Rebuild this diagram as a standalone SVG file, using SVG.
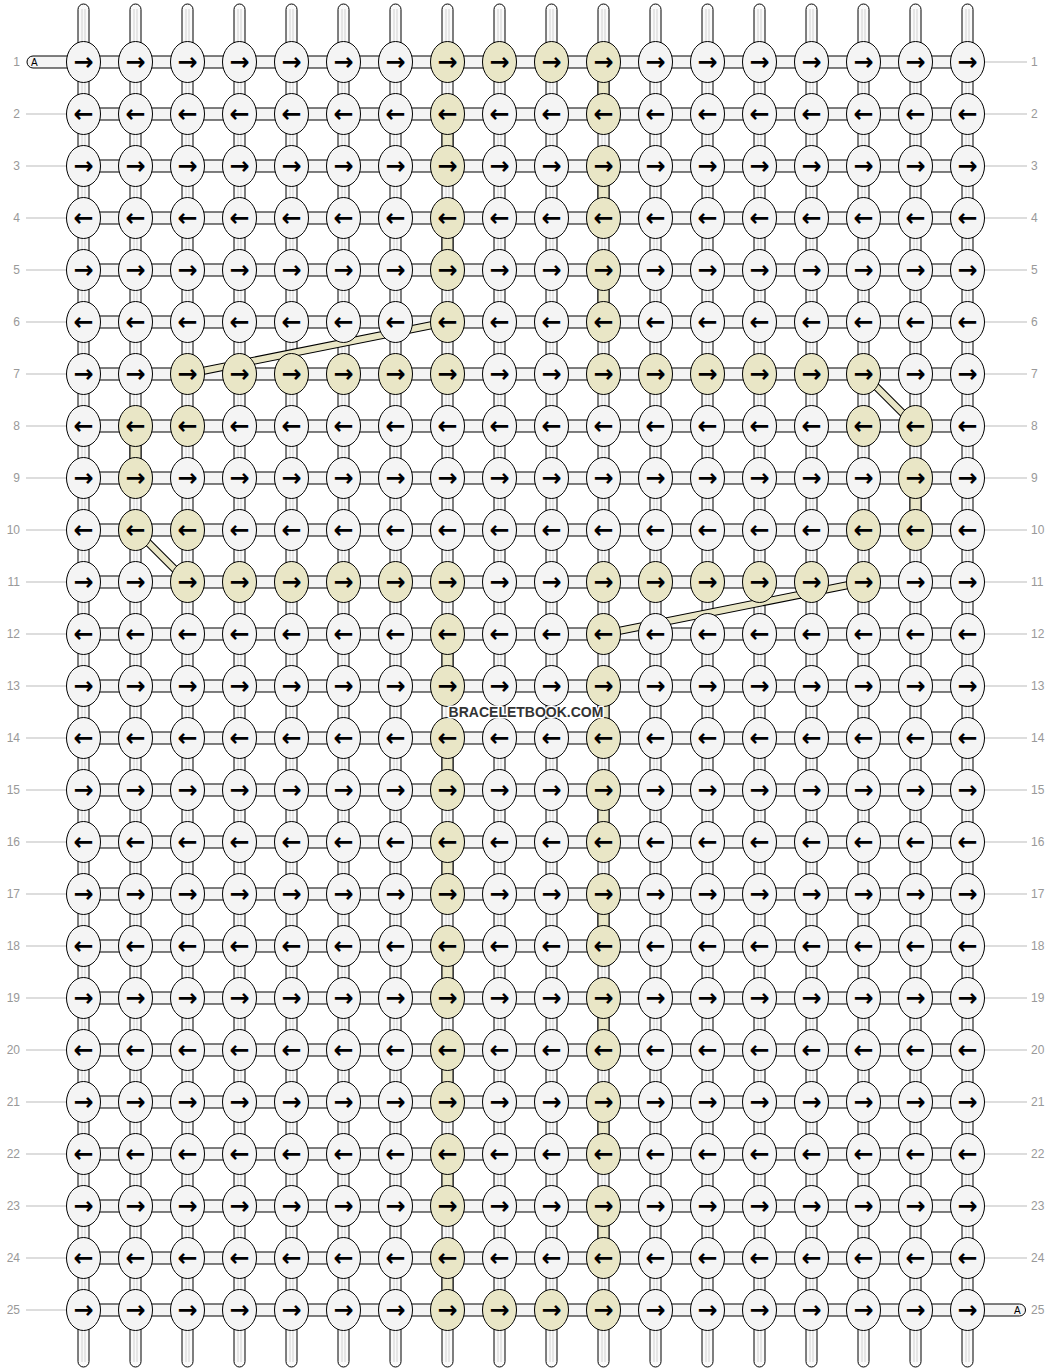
<svg xmlns="http://www.w3.org/2000/svg" width="1052" height="1372" viewBox="0 0 1052 1372">
<style>
.vt{fill:#fafafa;stroke:#000;stroke-width:1}
.vl{stroke:#d2d2d2;stroke-width:1}
.ht{fill:#f4f4f4;stroke:#000;stroke-width:1}
.yv{fill:#e9e6c6;stroke:#000;stroke-width:1}
.bo{stroke:#000;stroke-width:8;stroke-linecap:butt}
.bi{stroke:#e9e6c6;stroke-width:6;stroke-linecap:butt}
.w{fill:#f4f4f4;stroke:#000;stroke-width:1}
.y{fill:#e9e6c6;stroke:#000;stroke-width:1}
.a{font-family:"DejaVu Sans",sans-serif;font-weight:bold;font-size:24px;text-anchor:middle;fill:#000}
.ll{stroke:#bbb;stroke-width:1}
.lb{font-family:"Liberation Sans",Arial,sans-serif;font-size:12px;fill:#999}
.le{text-anchor:end}
.tA{font-family:"Liberation Sans",Arial,sans-serif;font-size:10px;fill:#000}
.wm{font-family:"Liberation Sans",Arial,sans-serif;font-weight:bold;font-size:14px;text-anchor:middle;fill:#333;stroke:#fff;stroke-width:3;paint-order:stroke;stroke-linejoin:round}
</style>
<g id="connectors">
<g id="strings">
<rect class="vt" x="78" y="4" width="11" height="1363" rx="5.5"/>
<rect class="vt" x="130" y="4" width="11" height="1363" rx="5.5"/>
<rect class="vt" x="182" y="4" width="11" height="1363" rx="5.5"/>
<rect class="vt" x="234" y="4" width="11" height="1363" rx="5.5"/>
<rect class="vt" x="286" y="4" width="11" height="1363" rx="5.5"/>
<rect class="vt" x="338" y="4" width="11" height="1363" rx="5.5"/>
<rect class="vt" x="390" y="4" width="11" height="1363" rx="5.5"/>
<rect class="vt" x="442" y="4" width="11" height="1363" rx="5.5"/>
<rect class="vt" x="494" y="4" width="11" height="1363" rx="5.5"/>
<rect class="vt" x="546" y="4" width="11" height="1363" rx="5.5"/>
<rect class="vt" x="598" y="4" width="11" height="1363" rx="5.5"/>
<rect class="vt" x="650" y="4" width="11" height="1363" rx="5.5"/>
<rect class="vt" x="702" y="4" width="11" height="1363" rx="5.5"/>
<rect class="vt" x="754" y="4" width="11" height="1363" rx="5.5"/>
<rect class="vt" x="806" y="4" width="11" height="1363" rx="5.5"/>
<rect class="vt" x="858" y="4" width="11" height="1363" rx="5.5"/>
<rect class="vt" x="910" y="4" width="11" height="1363" rx="5.5"/>
<rect class="vt" x="962" y="4" width="11" height="1363" rx="5.5"/>
<path class="vl" d="M82,9V1362M85,9V1362M134,9V1362M137,9V1362M186,9V1362M189,9V1362M238,9V1362M241,9V1362M290,9V1362M293,9V1362M342,9V1362M345,9V1362M394,9V1362M397,9V1362M446,9V1362M449,9V1362M498,9V1362M501,9V1362M550,9V1362M553,9V1362M602,9V1362M605,9V1362M654,9V1362M657,9V1362M706,9V1362M709,9V1362M758,9V1362M761,9V1362M810,9V1362M813,9V1362M862,9V1362M865,9V1362M914,9V1362M917,9V1362M966,9V1362M969,9V1362"/>
</g>
<g id="rows">
<rect class="ht" x="27" y="56" width="941" height="12" rx="6"/>
<rect class="ht" x="83.5" y="108" width="884" height="12"/>
<rect class="ht" x="83.5" y="160" width="884" height="12"/>
<rect class="ht" x="83.5" y="212" width="884" height="12"/>
<rect class="ht" x="83.5" y="264" width="884" height="12"/>
<rect class="ht" x="83.5" y="316" width="884" height="12"/>
<rect class="ht" x="83.5" y="368" width="884" height="12"/>
<rect class="ht" x="83.5" y="420" width="884" height="12"/>
<rect class="ht" x="83.5" y="472" width="884" height="12"/>
<rect class="ht" x="83.5" y="524" width="884" height="12"/>
<rect class="ht" x="83.5" y="576" width="884" height="12"/>
<rect class="ht" x="83.5" y="628" width="884" height="12"/>
<rect class="ht" x="83.5" y="680" width="884" height="12"/>
<rect class="ht" x="83.5" y="732" width="884" height="12"/>
<rect class="ht" x="83.5" y="784" width="884" height="12"/>
<rect class="ht" x="83.5" y="836" width="884" height="12"/>
<rect class="ht" x="83.5" y="888" width="884" height="12"/>
<rect class="ht" x="83.5" y="940" width="884" height="12"/>
<rect class="ht" x="83.5" y="992" width="884" height="12"/>
<rect class="ht" x="83.5" y="1044" width="884" height="12"/>
<rect class="ht" x="83.5" y="1096" width="884" height="12"/>
<rect class="ht" x="83.5" y="1148" width="884" height="12"/>
<rect class="ht" x="83.5" y="1200" width="884" height="12"/>
<rect class="ht" x="83.5" y="1252" width="884" height="12"/>
<rect class="ht" x="83.5" y="1304" width="942" height="12" rx="6"/>
<text class="tA" x="31" y="65.5">A</text>
<text class="tA" x="1014" y="1313.5">A</text>
</g>
<g id="yellow-strings">
<rect class="yv" x="442" y="114" width="11" height="52"/>
<rect class="yv" x="442" y="218" width="11" height="52"/>
<rect class="yv" x="442" y="634" width="11" height="52"/>
<rect class="yv" x="442" y="738" width="11" height="52"/>
<rect class="yv" x="442" y="842" width="11" height="52"/>
<rect class="yv" x="442" y="946" width="11" height="52"/>
<rect class="yv" x="442" y="1050" width="11" height="52"/>
<rect class="yv" x="442" y="1154" width="11" height="52"/>
<rect class="yv" x="442" y="1258" width="11" height="52"/>
<rect class="yv" x="598" y="62" width="11" height="52"/>
<rect class="yv" x="598" y="166" width="11" height="52"/>
<rect class="yv" x="598" y="270" width="11" height="52"/>
<rect class="yv" x="598" y="686" width="11" height="52"/>
<rect class="yv" x="598" y="790" width="11" height="52"/>
<rect class="yv" x="598" y="894" width="11" height="52"/>
<rect class="yv" x="598" y="998" width="11" height="52"/>
<rect class="yv" x="598" y="1102" width="11" height="52"/>
<rect class="yv" x="598" y="1206" width="11" height="52"/>
<rect class="yv" x="130" y="426" width="11" height="52"/>
<rect class="yv" x="910" y="478" width="11" height="52"/>
</g>
<g id="bands">
<path class="bo" d="M447.5,322L187.5,374M863.5,374L915.5,426M135.5,530L187.5,582M863.5,582L603.5,634"/>
<path class="bi" d="M447.5,322L187.5,374M863.5,374L915.5,426M135.5,530L187.5,582M863.5,582L603.5,634"/>
</g>
</g>
<g id="labels">
<path class="ll" d="M26,114H66M26,166H66M26,218H66M26,270H66M26,322H66M26,374H66M26,426H66M26,478H66M26,530H66M26,582H66M26,634H66M26,686H66M26,738H66M26,790H66M26,842H66M26,894H66M26,946H66M26,998H66M26,1050H66M26,1102H66M26,1154H66M26,1206H66M26,1258H66M26,1310H66"/>
<path class="ll" d="M985,62H1027M985,114H1027M985,166H1027M985,218H1027M985,270H1027M985,322H1027M985,374H1027M985,426H1027M985,478H1027M985,530H1027M985,582H1027M985,634H1027M985,686H1027M985,738H1027M985,790H1027M985,842H1027M985,894H1027M985,946H1027M985,998H1027M985,1050H1027M985,1102H1027M985,1154H1027M985,1206H1027M985,1258H1027"/>
<text class="lb le" x="20" y="66">1</text><text class="lb le" x="20" y="118">2</text><text class="lb le" x="20" y="170">3</text><text class="lb le" x="20" y="222">4</text><text class="lb le" x="20" y="274">5</text><text class="lb le" x="20" y="326">6</text><text class="lb le" x="20" y="378">7</text><text class="lb le" x="20" y="430">8</text><text class="lb le" x="20" y="482">9</text><text class="lb le" x="20" y="534">10</text><text class="lb le" x="20" y="586">11</text><text class="lb le" x="20" y="638">12</text><text class="lb le" x="20" y="690">13</text><text class="lb le" x="20" y="742">14</text><text class="lb le" x="20" y="794">15</text><text class="lb le" x="20" y="846">16</text><text class="lb le" x="20" y="898">17</text><text class="lb le" x="20" y="950">18</text><text class="lb le" x="20" y="1002">19</text><text class="lb le" x="20" y="1054">20</text><text class="lb le" x="20" y="1106">21</text><text class="lb le" x="20" y="1158">22</text><text class="lb le" x="20" y="1210">23</text><text class="lb le" x="20" y="1262">24</text><text class="lb le" x="20" y="1314">25</text>
<text class="lb" x="1031" y="66">1</text><text class="lb" x="1031" y="118">2</text><text class="lb" x="1031" y="170">3</text><text class="lb" x="1031" y="222">4</text><text class="lb" x="1031" y="274">5</text><text class="lb" x="1031" y="326">6</text><text class="lb" x="1031" y="378">7</text><text class="lb" x="1031" y="430">8</text><text class="lb" x="1031" y="482">9</text><text class="lb" x="1031" y="534">10</text><text class="lb" x="1031" y="586">11</text><text class="lb" x="1031" y="638">12</text><text class="lb" x="1031" y="690">13</text><text class="lb" x="1031" y="742">14</text><text class="lb" x="1031" y="794">15</text><text class="lb" x="1031" y="846">16</text><text class="lb" x="1031" y="898">17</text><text class="lb" x="1031" y="950">18</text><text class="lb" x="1031" y="1002">19</text><text class="lb" x="1031" y="1054">20</text><text class="lb" x="1031" y="1106">21</text><text class="lb" x="1031" y="1158">22</text><text class="lb" x="1031" y="1210">23</text><text class="lb" x="1031" y="1262">24</text><text class="lb" x="1031" y="1314">25</text>
</g>
<g id="nodes">
<g id="n1_1" transform="translate(83.5,62)"><ellipse class="w" rx="17" ry="20.5"/><text class="a" y="7.5">→</text></g>
<g id="n1_2" transform="translate(135.5,62)"><ellipse class="w" rx="17" ry="20.5"/><text class="a" y="7.5">→</text></g>
<g id="n1_3" transform="translate(187.5,62)"><ellipse class="w" rx="17" ry="20.5"/><text class="a" y="7.5">→</text></g>
<g id="n1_4" transform="translate(239.5,62)"><ellipse class="w" rx="17" ry="20.5"/><text class="a" y="7.5">→</text></g>
<g id="n1_5" transform="translate(291.5,62)"><ellipse class="w" rx="17" ry="20.5"/><text class="a" y="7.5">→</text></g>
<g id="n1_6" transform="translate(343.5,62)"><ellipse class="w" rx="17" ry="20.5"/><text class="a" y="7.5">→</text></g>
<g id="n1_7" transform="translate(395.5,62)"><ellipse class="w" rx="17" ry="20.5"/><text class="a" y="7.5">→</text></g>
<g id="n1_8" transform="translate(447.5,62)"><ellipse class="y" rx="17" ry="20.5"/><text class="a" y="7.5">→</text></g>
<g id="n1_9" transform="translate(499.5,62)"><ellipse class="y" rx="17" ry="20.5"/><text class="a" y="7.5">→</text></g>
<g id="n1_10" transform="translate(551.5,62)"><ellipse class="y" rx="17" ry="20.5"/><text class="a" y="7.5">→</text></g>
<g id="n1_11" transform="translate(603.5,62)"><ellipse class="y" rx="17" ry="20.5"/><text class="a" y="7.5">→</text></g>
<g id="n1_12" transform="translate(655.5,62)"><ellipse class="w" rx="17" ry="20.5"/><text class="a" y="7.5">→</text></g>
<g id="n1_13" transform="translate(707.5,62)"><ellipse class="w" rx="17" ry="20.5"/><text class="a" y="7.5">→</text></g>
<g id="n1_14" transform="translate(759.5,62)"><ellipse class="w" rx="17" ry="20.5"/><text class="a" y="7.5">→</text></g>
<g id="n1_15" transform="translate(811.5,62)"><ellipse class="w" rx="17" ry="20.5"/><text class="a" y="7.5">→</text></g>
<g id="n1_16" transform="translate(863.5,62)"><ellipse class="w" rx="17" ry="20.5"/><text class="a" y="7.5">→</text></g>
<g id="n1_17" transform="translate(915.5,62)"><ellipse class="w" rx="17" ry="20.5"/><text class="a" y="7.5">→</text></g>
<g id="n1_18" transform="translate(967.5,62)"><ellipse class="w" rx="17" ry="20.5"/><text class="a" y="7.5">→</text></g>
<g id="n2_1" transform="translate(83.5,114)"><ellipse class="w" rx="17" ry="20.5"/><text class="a" y="7.5">←</text></g>
<g id="n2_2" transform="translate(135.5,114)"><ellipse class="w" rx="17" ry="20.5"/><text class="a" y="7.5">←</text></g>
<g id="n2_3" transform="translate(187.5,114)"><ellipse class="w" rx="17" ry="20.5"/><text class="a" y="7.5">←</text></g>
<g id="n2_4" transform="translate(239.5,114)"><ellipse class="w" rx="17" ry="20.5"/><text class="a" y="7.5">←</text></g>
<g id="n2_5" transform="translate(291.5,114)"><ellipse class="w" rx="17" ry="20.5"/><text class="a" y="7.5">←</text></g>
<g id="n2_6" transform="translate(343.5,114)"><ellipse class="w" rx="17" ry="20.5"/><text class="a" y="7.5">←</text></g>
<g id="n2_7" transform="translate(395.5,114)"><ellipse class="w" rx="17" ry="20.5"/><text class="a" y="7.5">←</text></g>
<g id="n2_8" transform="translate(447.5,114)"><ellipse class="y" rx="17" ry="20.5"/><text class="a" y="7.5">←</text></g>
<g id="n2_9" transform="translate(499.5,114)"><ellipse class="w" rx="17" ry="20.5"/><text class="a" y="7.5">←</text></g>
<g id="n2_10" transform="translate(551.5,114)"><ellipse class="w" rx="17" ry="20.5"/><text class="a" y="7.5">←</text></g>
<g id="n2_11" transform="translate(603.5,114)"><ellipse class="y" rx="17" ry="20.5"/><text class="a" y="7.5">←</text></g>
<g id="n2_12" transform="translate(655.5,114)"><ellipse class="w" rx="17" ry="20.5"/><text class="a" y="7.5">←</text></g>
<g id="n2_13" transform="translate(707.5,114)"><ellipse class="w" rx="17" ry="20.5"/><text class="a" y="7.5">←</text></g>
<g id="n2_14" transform="translate(759.5,114)"><ellipse class="w" rx="17" ry="20.5"/><text class="a" y="7.5">←</text></g>
<g id="n2_15" transform="translate(811.5,114)"><ellipse class="w" rx="17" ry="20.5"/><text class="a" y="7.5">←</text></g>
<g id="n2_16" transform="translate(863.5,114)"><ellipse class="w" rx="17" ry="20.5"/><text class="a" y="7.5">←</text></g>
<g id="n2_17" transform="translate(915.5,114)"><ellipse class="w" rx="17" ry="20.5"/><text class="a" y="7.5">←</text></g>
<g id="n2_18" transform="translate(967.5,114)"><ellipse class="w" rx="17" ry="20.5"/><text class="a" y="7.5">←</text></g>
<g id="n3_1" transform="translate(83.5,166)"><ellipse class="w" rx="17" ry="20.5"/><text class="a" y="7.5">→</text></g>
<g id="n3_2" transform="translate(135.5,166)"><ellipse class="w" rx="17" ry="20.5"/><text class="a" y="7.5">→</text></g>
<g id="n3_3" transform="translate(187.5,166)"><ellipse class="w" rx="17" ry="20.5"/><text class="a" y="7.5">→</text></g>
<g id="n3_4" transform="translate(239.5,166)"><ellipse class="w" rx="17" ry="20.5"/><text class="a" y="7.5">→</text></g>
<g id="n3_5" transform="translate(291.5,166)"><ellipse class="w" rx="17" ry="20.5"/><text class="a" y="7.5">→</text></g>
<g id="n3_6" transform="translate(343.5,166)"><ellipse class="w" rx="17" ry="20.5"/><text class="a" y="7.5">→</text></g>
<g id="n3_7" transform="translate(395.5,166)"><ellipse class="w" rx="17" ry="20.5"/><text class="a" y="7.5">→</text></g>
<g id="n3_8" transform="translate(447.5,166)"><ellipse class="y" rx="17" ry="20.5"/><text class="a" y="7.5">→</text></g>
<g id="n3_9" transform="translate(499.5,166)"><ellipse class="w" rx="17" ry="20.5"/><text class="a" y="7.5">→</text></g>
<g id="n3_10" transform="translate(551.5,166)"><ellipse class="w" rx="17" ry="20.5"/><text class="a" y="7.5">→</text></g>
<g id="n3_11" transform="translate(603.5,166)"><ellipse class="y" rx="17" ry="20.5"/><text class="a" y="7.5">→</text></g>
<g id="n3_12" transform="translate(655.5,166)"><ellipse class="w" rx="17" ry="20.5"/><text class="a" y="7.5">→</text></g>
<g id="n3_13" transform="translate(707.5,166)"><ellipse class="w" rx="17" ry="20.5"/><text class="a" y="7.5">→</text></g>
<g id="n3_14" transform="translate(759.5,166)"><ellipse class="w" rx="17" ry="20.5"/><text class="a" y="7.5">→</text></g>
<g id="n3_15" transform="translate(811.5,166)"><ellipse class="w" rx="17" ry="20.5"/><text class="a" y="7.5">→</text></g>
<g id="n3_16" transform="translate(863.5,166)"><ellipse class="w" rx="17" ry="20.5"/><text class="a" y="7.5">→</text></g>
<g id="n3_17" transform="translate(915.5,166)"><ellipse class="w" rx="17" ry="20.5"/><text class="a" y="7.5">→</text></g>
<g id="n3_18" transform="translate(967.5,166)"><ellipse class="w" rx="17" ry="20.5"/><text class="a" y="7.5">→</text></g>
<g id="n4_1" transform="translate(83.5,218)"><ellipse class="w" rx="17" ry="20.5"/><text class="a" y="7.5">←</text></g>
<g id="n4_2" transform="translate(135.5,218)"><ellipse class="w" rx="17" ry="20.5"/><text class="a" y="7.5">←</text></g>
<g id="n4_3" transform="translate(187.5,218)"><ellipse class="w" rx="17" ry="20.5"/><text class="a" y="7.5">←</text></g>
<g id="n4_4" transform="translate(239.5,218)"><ellipse class="w" rx="17" ry="20.5"/><text class="a" y="7.5">←</text></g>
<g id="n4_5" transform="translate(291.5,218)"><ellipse class="w" rx="17" ry="20.5"/><text class="a" y="7.5">←</text></g>
<g id="n4_6" transform="translate(343.5,218)"><ellipse class="w" rx="17" ry="20.5"/><text class="a" y="7.5">←</text></g>
<g id="n4_7" transform="translate(395.5,218)"><ellipse class="w" rx="17" ry="20.5"/><text class="a" y="7.5">←</text></g>
<g id="n4_8" transform="translate(447.5,218)"><ellipse class="y" rx="17" ry="20.5"/><text class="a" y="7.5">←</text></g>
<g id="n4_9" transform="translate(499.5,218)"><ellipse class="w" rx="17" ry="20.5"/><text class="a" y="7.5">←</text></g>
<g id="n4_10" transform="translate(551.5,218)"><ellipse class="w" rx="17" ry="20.5"/><text class="a" y="7.5">←</text></g>
<g id="n4_11" transform="translate(603.5,218)"><ellipse class="y" rx="17" ry="20.5"/><text class="a" y="7.5">←</text></g>
<g id="n4_12" transform="translate(655.5,218)"><ellipse class="w" rx="17" ry="20.5"/><text class="a" y="7.5">←</text></g>
<g id="n4_13" transform="translate(707.5,218)"><ellipse class="w" rx="17" ry="20.5"/><text class="a" y="7.5">←</text></g>
<g id="n4_14" transform="translate(759.5,218)"><ellipse class="w" rx="17" ry="20.5"/><text class="a" y="7.5">←</text></g>
<g id="n4_15" transform="translate(811.5,218)"><ellipse class="w" rx="17" ry="20.5"/><text class="a" y="7.5">←</text></g>
<g id="n4_16" transform="translate(863.5,218)"><ellipse class="w" rx="17" ry="20.5"/><text class="a" y="7.5">←</text></g>
<g id="n4_17" transform="translate(915.5,218)"><ellipse class="w" rx="17" ry="20.5"/><text class="a" y="7.5">←</text></g>
<g id="n4_18" transform="translate(967.5,218)"><ellipse class="w" rx="17" ry="20.5"/><text class="a" y="7.5">←</text></g>
<g id="n5_1" transform="translate(83.5,270)"><ellipse class="w" rx="17" ry="20.5"/><text class="a" y="7.5">→</text></g>
<g id="n5_2" transform="translate(135.5,270)"><ellipse class="w" rx="17" ry="20.5"/><text class="a" y="7.5">→</text></g>
<g id="n5_3" transform="translate(187.5,270)"><ellipse class="w" rx="17" ry="20.5"/><text class="a" y="7.5">→</text></g>
<g id="n5_4" transform="translate(239.5,270)"><ellipse class="w" rx="17" ry="20.5"/><text class="a" y="7.5">→</text></g>
<g id="n5_5" transform="translate(291.5,270)"><ellipse class="w" rx="17" ry="20.5"/><text class="a" y="7.5">→</text></g>
<g id="n5_6" transform="translate(343.5,270)"><ellipse class="w" rx="17" ry="20.5"/><text class="a" y="7.5">→</text></g>
<g id="n5_7" transform="translate(395.5,270)"><ellipse class="w" rx="17" ry="20.5"/><text class="a" y="7.5">→</text></g>
<g id="n5_8" transform="translate(447.5,270)"><ellipse class="y" rx="17" ry="20.5"/><text class="a" y="7.5">→</text></g>
<g id="n5_9" transform="translate(499.5,270)"><ellipse class="w" rx="17" ry="20.5"/><text class="a" y="7.5">→</text></g>
<g id="n5_10" transform="translate(551.5,270)"><ellipse class="w" rx="17" ry="20.5"/><text class="a" y="7.5">→</text></g>
<g id="n5_11" transform="translate(603.5,270)"><ellipse class="y" rx="17" ry="20.5"/><text class="a" y="7.5">→</text></g>
<g id="n5_12" transform="translate(655.5,270)"><ellipse class="w" rx="17" ry="20.5"/><text class="a" y="7.5">→</text></g>
<g id="n5_13" transform="translate(707.5,270)"><ellipse class="w" rx="17" ry="20.5"/><text class="a" y="7.5">→</text></g>
<g id="n5_14" transform="translate(759.5,270)"><ellipse class="w" rx="17" ry="20.5"/><text class="a" y="7.5">→</text></g>
<g id="n5_15" transform="translate(811.5,270)"><ellipse class="w" rx="17" ry="20.5"/><text class="a" y="7.5">→</text></g>
<g id="n5_16" transform="translate(863.5,270)"><ellipse class="w" rx="17" ry="20.5"/><text class="a" y="7.5">→</text></g>
<g id="n5_17" transform="translate(915.5,270)"><ellipse class="w" rx="17" ry="20.5"/><text class="a" y="7.5">→</text></g>
<g id="n5_18" transform="translate(967.5,270)"><ellipse class="w" rx="17" ry="20.5"/><text class="a" y="7.5">→</text></g>
<g id="n6_1" transform="translate(83.5,322)"><ellipse class="w" rx="17" ry="20.5"/><text class="a" y="7.5">←</text></g>
<g id="n6_2" transform="translate(135.5,322)"><ellipse class="w" rx="17" ry="20.5"/><text class="a" y="7.5">←</text></g>
<g id="n6_3" transform="translate(187.5,322)"><ellipse class="w" rx="17" ry="20.5"/><text class="a" y="7.5">←</text></g>
<g id="n6_4" transform="translate(239.5,322)"><ellipse class="w" rx="17" ry="20.5"/><text class="a" y="7.5">←</text></g>
<g id="n6_5" transform="translate(291.5,322)"><ellipse class="w" rx="17" ry="20.5"/><text class="a" y="7.5">←</text></g>
<g id="n6_6" transform="translate(343.5,322)"><ellipse class="w" rx="17" ry="20.5"/><text class="a" y="7.5">←</text></g>
<g id="n6_7" transform="translate(395.5,322)"><ellipse class="w" rx="17" ry="20.5"/><text class="a" y="7.5">←</text></g>
<g id="n6_8" transform="translate(447.5,322)"><ellipse class="y" rx="17" ry="20.5"/><text class="a" y="7.5">←</text></g>
<g id="n6_9" transform="translate(499.5,322)"><ellipse class="w" rx="17" ry="20.5"/><text class="a" y="7.5">←</text></g>
<g id="n6_10" transform="translate(551.5,322)"><ellipse class="w" rx="17" ry="20.5"/><text class="a" y="7.5">←</text></g>
<g id="n6_11" transform="translate(603.5,322)"><ellipse class="y" rx="17" ry="20.5"/><text class="a" y="7.5">←</text></g>
<g id="n6_12" transform="translate(655.5,322)"><ellipse class="w" rx="17" ry="20.5"/><text class="a" y="7.5">←</text></g>
<g id="n6_13" transform="translate(707.5,322)"><ellipse class="w" rx="17" ry="20.5"/><text class="a" y="7.5">←</text></g>
<g id="n6_14" transform="translate(759.5,322)"><ellipse class="w" rx="17" ry="20.5"/><text class="a" y="7.5">←</text></g>
<g id="n6_15" transform="translate(811.5,322)"><ellipse class="w" rx="17" ry="20.5"/><text class="a" y="7.5">←</text></g>
<g id="n6_16" transform="translate(863.5,322)"><ellipse class="w" rx="17" ry="20.5"/><text class="a" y="7.5">←</text></g>
<g id="n6_17" transform="translate(915.5,322)"><ellipse class="w" rx="17" ry="20.5"/><text class="a" y="7.5">←</text></g>
<g id="n6_18" transform="translate(967.5,322)"><ellipse class="w" rx="17" ry="20.5"/><text class="a" y="7.5">←</text></g>
<g id="n7_1" transform="translate(83.5,374)"><ellipse class="w" rx="17" ry="20.5"/><text class="a" y="7.5">→</text></g>
<g id="n7_2" transform="translate(135.5,374)"><ellipse class="w" rx="17" ry="20.5"/><text class="a" y="7.5">→</text></g>
<g id="n7_3" transform="translate(187.5,374)"><ellipse class="y" rx="17" ry="20.5"/><text class="a" y="7.5">→</text></g>
<g id="n7_4" transform="translate(239.5,374)"><ellipse class="y" rx="17" ry="20.5"/><text class="a" y="7.5">→</text></g>
<g id="n7_5" transform="translate(291.5,374)"><ellipse class="y" rx="17" ry="20.5"/><text class="a" y="7.5">→</text></g>
<g id="n7_6" transform="translate(343.5,374)"><ellipse class="y" rx="17" ry="20.5"/><text class="a" y="7.5">→</text></g>
<g id="n7_7" transform="translate(395.5,374)"><ellipse class="y" rx="17" ry="20.5"/><text class="a" y="7.5">→</text></g>
<g id="n7_8" transform="translate(447.5,374)"><ellipse class="y" rx="17" ry="20.5"/><text class="a" y="7.5">→</text></g>
<g id="n7_9" transform="translate(499.5,374)"><ellipse class="w" rx="17" ry="20.5"/><text class="a" y="7.5">→</text></g>
<g id="n7_10" transform="translate(551.5,374)"><ellipse class="w" rx="17" ry="20.5"/><text class="a" y="7.5">→</text></g>
<g id="n7_11" transform="translate(603.5,374)"><ellipse class="y" rx="17" ry="20.5"/><text class="a" y="7.5">→</text></g>
<g id="n7_12" transform="translate(655.5,374)"><ellipse class="y" rx="17" ry="20.5"/><text class="a" y="7.5">→</text></g>
<g id="n7_13" transform="translate(707.5,374)"><ellipse class="y" rx="17" ry="20.5"/><text class="a" y="7.5">→</text></g>
<g id="n7_14" transform="translate(759.5,374)"><ellipse class="y" rx="17" ry="20.5"/><text class="a" y="7.5">→</text></g>
<g id="n7_15" transform="translate(811.5,374)"><ellipse class="y" rx="17" ry="20.5"/><text class="a" y="7.5">→</text></g>
<g id="n7_16" transform="translate(863.5,374)"><ellipse class="y" rx="17" ry="20.5"/><text class="a" y="7.5">→</text></g>
<g id="n7_17" transform="translate(915.5,374)"><ellipse class="w" rx="17" ry="20.5"/><text class="a" y="7.5">→</text></g>
<g id="n7_18" transform="translate(967.5,374)"><ellipse class="w" rx="17" ry="20.5"/><text class="a" y="7.5">→</text></g>
<g id="n8_1" transform="translate(83.5,426)"><ellipse class="w" rx="17" ry="20.5"/><text class="a" y="7.5">←</text></g>
<g id="n8_2" transform="translate(135.5,426)"><ellipse class="y" rx="17" ry="20.5"/><text class="a" y="7.5">←</text></g>
<g id="n8_3" transform="translate(187.5,426)"><ellipse class="y" rx="17" ry="20.5"/><text class="a" y="7.5">←</text></g>
<g id="n8_4" transform="translate(239.5,426)"><ellipse class="w" rx="17" ry="20.5"/><text class="a" y="7.5">←</text></g>
<g id="n8_5" transform="translate(291.5,426)"><ellipse class="w" rx="17" ry="20.5"/><text class="a" y="7.5">←</text></g>
<g id="n8_6" transform="translate(343.5,426)"><ellipse class="w" rx="17" ry="20.5"/><text class="a" y="7.5">←</text></g>
<g id="n8_7" transform="translate(395.5,426)"><ellipse class="w" rx="17" ry="20.5"/><text class="a" y="7.5">←</text></g>
<g id="n8_8" transform="translate(447.5,426)"><ellipse class="w" rx="17" ry="20.5"/><text class="a" y="7.5">←</text></g>
<g id="n8_9" transform="translate(499.5,426)"><ellipse class="w" rx="17" ry="20.5"/><text class="a" y="7.5">←</text></g>
<g id="n8_10" transform="translate(551.5,426)"><ellipse class="w" rx="17" ry="20.5"/><text class="a" y="7.5">←</text></g>
<g id="n8_11" transform="translate(603.5,426)"><ellipse class="w" rx="17" ry="20.5"/><text class="a" y="7.5">←</text></g>
<g id="n8_12" transform="translate(655.5,426)"><ellipse class="w" rx="17" ry="20.5"/><text class="a" y="7.5">←</text></g>
<g id="n8_13" transform="translate(707.5,426)"><ellipse class="w" rx="17" ry="20.5"/><text class="a" y="7.5">←</text></g>
<g id="n8_14" transform="translate(759.5,426)"><ellipse class="w" rx="17" ry="20.5"/><text class="a" y="7.5">←</text></g>
<g id="n8_15" transform="translate(811.5,426)"><ellipse class="w" rx="17" ry="20.5"/><text class="a" y="7.5">←</text></g>
<g id="n8_16" transform="translate(863.5,426)"><ellipse class="y" rx="17" ry="20.5"/><text class="a" y="7.5">←</text></g>
<g id="n8_17" transform="translate(915.5,426)"><ellipse class="y" rx="17" ry="20.5"/><text class="a" y="7.5">←</text></g>
<g id="n8_18" transform="translate(967.5,426)"><ellipse class="w" rx="17" ry="20.5"/><text class="a" y="7.5">←</text></g>
<g id="n9_1" transform="translate(83.5,478)"><ellipse class="w" rx="17" ry="20.5"/><text class="a" y="7.5">→</text></g>
<g id="n9_2" transform="translate(135.5,478)"><ellipse class="y" rx="17" ry="20.5"/><text class="a" y="7.5">→</text></g>
<g id="n9_3" transform="translate(187.5,478)"><ellipse class="w" rx="17" ry="20.5"/><text class="a" y="7.5">→</text></g>
<g id="n9_4" transform="translate(239.5,478)"><ellipse class="w" rx="17" ry="20.5"/><text class="a" y="7.5">→</text></g>
<g id="n9_5" transform="translate(291.5,478)"><ellipse class="w" rx="17" ry="20.5"/><text class="a" y="7.5">→</text></g>
<g id="n9_6" transform="translate(343.5,478)"><ellipse class="w" rx="17" ry="20.5"/><text class="a" y="7.5">→</text></g>
<g id="n9_7" transform="translate(395.5,478)"><ellipse class="w" rx="17" ry="20.5"/><text class="a" y="7.5">→</text></g>
<g id="n9_8" transform="translate(447.5,478)"><ellipse class="w" rx="17" ry="20.5"/><text class="a" y="7.5">→</text></g>
<g id="n9_9" transform="translate(499.5,478)"><ellipse class="w" rx="17" ry="20.5"/><text class="a" y="7.5">→</text></g>
<g id="n9_10" transform="translate(551.5,478)"><ellipse class="w" rx="17" ry="20.5"/><text class="a" y="7.5">→</text></g>
<g id="n9_11" transform="translate(603.5,478)"><ellipse class="w" rx="17" ry="20.5"/><text class="a" y="7.5">→</text></g>
<g id="n9_12" transform="translate(655.5,478)"><ellipse class="w" rx="17" ry="20.5"/><text class="a" y="7.5">→</text></g>
<g id="n9_13" transform="translate(707.5,478)"><ellipse class="w" rx="17" ry="20.5"/><text class="a" y="7.5">→</text></g>
<g id="n9_14" transform="translate(759.5,478)"><ellipse class="w" rx="17" ry="20.5"/><text class="a" y="7.5">→</text></g>
<g id="n9_15" transform="translate(811.5,478)"><ellipse class="w" rx="17" ry="20.5"/><text class="a" y="7.5">→</text></g>
<g id="n9_16" transform="translate(863.5,478)"><ellipse class="w" rx="17" ry="20.5"/><text class="a" y="7.5">→</text></g>
<g id="n9_17" transform="translate(915.5,478)"><ellipse class="y" rx="17" ry="20.5"/><text class="a" y="7.5">→</text></g>
<g id="n9_18" transform="translate(967.5,478)"><ellipse class="w" rx="17" ry="20.5"/><text class="a" y="7.5">→</text></g>
<g id="n10_1" transform="translate(83.5,530)"><ellipse class="w" rx="17" ry="20.5"/><text class="a" y="7.5">←</text></g>
<g id="n10_2" transform="translate(135.5,530)"><ellipse class="y" rx="17" ry="20.5"/><text class="a" y="7.5">←</text></g>
<g id="n10_3" transform="translate(187.5,530)"><ellipse class="y" rx="17" ry="20.5"/><text class="a" y="7.5">←</text></g>
<g id="n10_4" transform="translate(239.5,530)"><ellipse class="w" rx="17" ry="20.5"/><text class="a" y="7.5">←</text></g>
<g id="n10_5" transform="translate(291.5,530)"><ellipse class="w" rx="17" ry="20.5"/><text class="a" y="7.5">←</text></g>
<g id="n10_6" transform="translate(343.5,530)"><ellipse class="w" rx="17" ry="20.5"/><text class="a" y="7.5">←</text></g>
<g id="n10_7" transform="translate(395.5,530)"><ellipse class="w" rx="17" ry="20.5"/><text class="a" y="7.5">←</text></g>
<g id="n10_8" transform="translate(447.5,530)"><ellipse class="w" rx="17" ry="20.5"/><text class="a" y="7.5">←</text></g>
<g id="n10_9" transform="translate(499.5,530)"><ellipse class="w" rx="17" ry="20.5"/><text class="a" y="7.5">←</text></g>
<g id="n10_10" transform="translate(551.5,530)"><ellipse class="w" rx="17" ry="20.5"/><text class="a" y="7.5">←</text></g>
<g id="n10_11" transform="translate(603.5,530)"><ellipse class="w" rx="17" ry="20.5"/><text class="a" y="7.5">←</text></g>
<g id="n10_12" transform="translate(655.5,530)"><ellipse class="w" rx="17" ry="20.5"/><text class="a" y="7.5">←</text></g>
<g id="n10_13" transform="translate(707.5,530)"><ellipse class="w" rx="17" ry="20.5"/><text class="a" y="7.5">←</text></g>
<g id="n10_14" transform="translate(759.5,530)"><ellipse class="w" rx="17" ry="20.5"/><text class="a" y="7.5">←</text></g>
<g id="n10_15" transform="translate(811.5,530)"><ellipse class="w" rx="17" ry="20.5"/><text class="a" y="7.5">←</text></g>
<g id="n10_16" transform="translate(863.5,530)"><ellipse class="y" rx="17" ry="20.5"/><text class="a" y="7.5">←</text></g>
<g id="n10_17" transform="translate(915.5,530)"><ellipse class="y" rx="17" ry="20.5"/><text class="a" y="7.5">←</text></g>
<g id="n10_18" transform="translate(967.5,530)"><ellipse class="w" rx="17" ry="20.5"/><text class="a" y="7.5">←</text></g>
<g id="n11_1" transform="translate(83.5,582)"><ellipse class="w" rx="17" ry="20.5"/><text class="a" y="7.5">→</text></g>
<g id="n11_2" transform="translate(135.5,582)"><ellipse class="w" rx="17" ry="20.5"/><text class="a" y="7.5">→</text></g>
<g id="n11_3" transform="translate(187.5,582)"><ellipse class="y" rx="17" ry="20.5"/><text class="a" y="7.5">→</text></g>
<g id="n11_4" transform="translate(239.5,582)"><ellipse class="y" rx="17" ry="20.5"/><text class="a" y="7.5">→</text></g>
<g id="n11_5" transform="translate(291.5,582)"><ellipse class="y" rx="17" ry="20.5"/><text class="a" y="7.5">→</text></g>
<g id="n11_6" transform="translate(343.5,582)"><ellipse class="y" rx="17" ry="20.5"/><text class="a" y="7.5">→</text></g>
<g id="n11_7" transform="translate(395.5,582)"><ellipse class="y" rx="17" ry="20.5"/><text class="a" y="7.5">→</text></g>
<g id="n11_8" transform="translate(447.5,582)"><ellipse class="y" rx="17" ry="20.5"/><text class="a" y="7.5">→</text></g>
<g id="n11_9" transform="translate(499.5,582)"><ellipse class="w" rx="17" ry="20.5"/><text class="a" y="7.5">→</text></g>
<g id="n11_10" transform="translate(551.5,582)"><ellipse class="w" rx="17" ry="20.5"/><text class="a" y="7.5">→</text></g>
<g id="n11_11" transform="translate(603.5,582)"><ellipse class="y" rx="17" ry="20.5"/><text class="a" y="7.5">→</text></g>
<g id="n11_12" transform="translate(655.5,582)"><ellipse class="y" rx="17" ry="20.5"/><text class="a" y="7.5">→</text></g>
<g id="n11_13" transform="translate(707.5,582)"><ellipse class="y" rx="17" ry="20.5"/><text class="a" y="7.5">→</text></g>
<g id="n11_14" transform="translate(759.5,582)"><ellipse class="y" rx="17" ry="20.5"/><text class="a" y="7.5">→</text></g>
<g id="n11_15" transform="translate(811.5,582)"><ellipse class="y" rx="17" ry="20.5"/><text class="a" y="7.5">→</text></g>
<g id="n11_16" transform="translate(863.5,582)"><ellipse class="y" rx="17" ry="20.5"/><text class="a" y="7.5">→</text></g>
<g id="n11_17" transform="translate(915.5,582)"><ellipse class="w" rx="17" ry="20.5"/><text class="a" y="7.5">→</text></g>
<g id="n11_18" transform="translate(967.5,582)"><ellipse class="w" rx="17" ry="20.5"/><text class="a" y="7.5">→</text></g>
<g id="n12_1" transform="translate(83.5,634)"><ellipse class="w" rx="17" ry="20.5"/><text class="a" y="7.5">←</text></g>
<g id="n12_2" transform="translate(135.5,634)"><ellipse class="w" rx="17" ry="20.5"/><text class="a" y="7.5">←</text></g>
<g id="n12_3" transform="translate(187.5,634)"><ellipse class="w" rx="17" ry="20.5"/><text class="a" y="7.5">←</text></g>
<g id="n12_4" transform="translate(239.5,634)"><ellipse class="w" rx="17" ry="20.5"/><text class="a" y="7.5">←</text></g>
<g id="n12_5" transform="translate(291.5,634)"><ellipse class="w" rx="17" ry="20.5"/><text class="a" y="7.5">←</text></g>
<g id="n12_6" transform="translate(343.5,634)"><ellipse class="w" rx="17" ry="20.5"/><text class="a" y="7.5">←</text></g>
<g id="n12_7" transform="translate(395.5,634)"><ellipse class="w" rx="17" ry="20.5"/><text class="a" y="7.5">←</text></g>
<g id="n12_8" transform="translate(447.5,634)"><ellipse class="y" rx="17" ry="20.5"/><text class="a" y="7.5">←</text></g>
<g id="n12_9" transform="translate(499.5,634)"><ellipse class="w" rx="17" ry="20.5"/><text class="a" y="7.5">←</text></g>
<g id="n12_10" transform="translate(551.5,634)"><ellipse class="w" rx="17" ry="20.5"/><text class="a" y="7.5">←</text></g>
<g id="n12_11" transform="translate(603.5,634)"><ellipse class="y" rx="17" ry="20.5"/><text class="a" y="7.5">←</text></g>
<g id="n12_12" transform="translate(655.5,634)"><ellipse class="w" rx="17" ry="20.5"/><text class="a" y="7.5">←</text></g>
<g id="n12_13" transform="translate(707.5,634)"><ellipse class="w" rx="17" ry="20.5"/><text class="a" y="7.5">←</text></g>
<g id="n12_14" transform="translate(759.5,634)"><ellipse class="w" rx="17" ry="20.5"/><text class="a" y="7.5">←</text></g>
<g id="n12_15" transform="translate(811.5,634)"><ellipse class="w" rx="17" ry="20.5"/><text class="a" y="7.5">←</text></g>
<g id="n12_16" transform="translate(863.5,634)"><ellipse class="w" rx="17" ry="20.5"/><text class="a" y="7.5">←</text></g>
<g id="n12_17" transform="translate(915.5,634)"><ellipse class="w" rx="17" ry="20.5"/><text class="a" y="7.5">←</text></g>
<g id="n12_18" transform="translate(967.5,634)"><ellipse class="w" rx="17" ry="20.5"/><text class="a" y="7.5">←</text></g>
<g id="n13_1" transform="translate(83.5,686)"><ellipse class="w" rx="17" ry="20.5"/><text class="a" y="7.5">→</text></g>
<g id="n13_2" transform="translate(135.5,686)"><ellipse class="w" rx="17" ry="20.5"/><text class="a" y="7.5">→</text></g>
<g id="n13_3" transform="translate(187.5,686)"><ellipse class="w" rx="17" ry="20.5"/><text class="a" y="7.5">→</text></g>
<g id="n13_4" transform="translate(239.5,686)"><ellipse class="w" rx="17" ry="20.5"/><text class="a" y="7.5">→</text></g>
<g id="n13_5" transform="translate(291.5,686)"><ellipse class="w" rx="17" ry="20.5"/><text class="a" y="7.5">→</text></g>
<g id="n13_6" transform="translate(343.5,686)"><ellipse class="w" rx="17" ry="20.5"/><text class="a" y="7.5">→</text></g>
<g id="n13_7" transform="translate(395.5,686)"><ellipse class="w" rx="17" ry="20.5"/><text class="a" y="7.5">→</text></g>
<g id="n13_8" transform="translate(447.5,686)"><ellipse class="y" rx="17" ry="20.5"/><text class="a" y="7.5">→</text></g>
<g id="n13_9" transform="translate(499.5,686)"><ellipse class="w" rx="17" ry="20.5"/><text class="a" y="7.5">→</text></g>
<g id="n13_10" transform="translate(551.5,686)"><ellipse class="w" rx="17" ry="20.5"/><text class="a" y="7.5">→</text></g>
<g id="n13_11" transform="translate(603.5,686)"><ellipse class="y" rx="17" ry="20.5"/><text class="a" y="7.5">→</text></g>
<g id="n13_12" transform="translate(655.5,686)"><ellipse class="w" rx="17" ry="20.5"/><text class="a" y="7.5">→</text></g>
<g id="n13_13" transform="translate(707.5,686)"><ellipse class="w" rx="17" ry="20.5"/><text class="a" y="7.5">→</text></g>
<g id="n13_14" transform="translate(759.5,686)"><ellipse class="w" rx="17" ry="20.5"/><text class="a" y="7.5">→</text></g>
<g id="n13_15" transform="translate(811.5,686)"><ellipse class="w" rx="17" ry="20.5"/><text class="a" y="7.5">→</text></g>
<g id="n13_16" transform="translate(863.5,686)"><ellipse class="w" rx="17" ry="20.5"/><text class="a" y="7.5">→</text></g>
<g id="n13_17" transform="translate(915.5,686)"><ellipse class="w" rx="17" ry="20.5"/><text class="a" y="7.5">→</text></g>
<g id="n13_18" transform="translate(967.5,686)"><ellipse class="w" rx="17" ry="20.5"/><text class="a" y="7.5">→</text></g>
<g id="n14_1" transform="translate(83.5,738)"><ellipse class="w" rx="17" ry="20.5"/><text class="a" y="7.5">←</text></g>
<g id="n14_2" transform="translate(135.5,738)"><ellipse class="w" rx="17" ry="20.5"/><text class="a" y="7.5">←</text></g>
<g id="n14_3" transform="translate(187.5,738)"><ellipse class="w" rx="17" ry="20.5"/><text class="a" y="7.5">←</text></g>
<g id="n14_4" transform="translate(239.5,738)"><ellipse class="w" rx="17" ry="20.5"/><text class="a" y="7.5">←</text></g>
<g id="n14_5" transform="translate(291.5,738)"><ellipse class="w" rx="17" ry="20.5"/><text class="a" y="7.5">←</text></g>
<g id="n14_6" transform="translate(343.5,738)"><ellipse class="w" rx="17" ry="20.5"/><text class="a" y="7.5">←</text></g>
<g id="n14_7" transform="translate(395.5,738)"><ellipse class="w" rx="17" ry="20.5"/><text class="a" y="7.5">←</text></g>
<g id="n14_8" transform="translate(447.5,738)"><ellipse class="y" rx="17" ry="20.5"/><text class="a" y="7.5">←</text></g>
<g id="n14_9" transform="translate(499.5,738)"><ellipse class="w" rx="17" ry="20.5"/><text class="a" y="7.5">←</text></g>
<g id="n14_10" transform="translate(551.5,738)"><ellipse class="w" rx="17" ry="20.5"/><text class="a" y="7.5">←</text></g>
<g id="n14_11" transform="translate(603.5,738)"><ellipse class="y" rx="17" ry="20.5"/><text class="a" y="7.5">←</text></g>
<g id="n14_12" transform="translate(655.5,738)"><ellipse class="w" rx="17" ry="20.5"/><text class="a" y="7.5">←</text></g>
<g id="n14_13" transform="translate(707.5,738)"><ellipse class="w" rx="17" ry="20.5"/><text class="a" y="7.5">←</text></g>
<g id="n14_14" transform="translate(759.5,738)"><ellipse class="w" rx="17" ry="20.5"/><text class="a" y="7.5">←</text></g>
<g id="n14_15" transform="translate(811.5,738)"><ellipse class="w" rx="17" ry="20.5"/><text class="a" y="7.5">←</text></g>
<g id="n14_16" transform="translate(863.5,738)"><ellipse class="w" rx="17" ry="20.5"/><text class="a" y="7.5">←</text></g>
<g id="n14_17" transform="translate(915.5,738)"><ellipse class="w" rx="17" ry="20.5"/><text class="a" y="7.5">←</text></g>
<g id="n14_18" transform="translate(967.5,738)"><ellipse class="w" rx="17" ry="20.5"/><text class="a" y="7.5">←</text></g>
<g id="n15_1" transform="translate(83.5,790)"><ellipse class="w" rx="17" ry="20.5"/><text class="a" y="7.5">→</text></g>
<g id="n15_2" transform="translate(135.5,790)"><ellipse class="w" rx="17" ry="20.5"/><text class="a" y="7.5">→</text></g>
<g id="n15_3" transform="translate(187.5,790)"><ellipse class="w" rx="17" ry="20.5"/><text class="a" y="7.5">→</text></g>
<g id="n15_4" transform="translate(239.5,790)"><ellipse class="w" rx="17" ry="20.5"/><text class="a" y="7.5">→</text></g>
<g id="n15_5" transform="translate(291.5,790)"><ellipse class="w" rx="17" ry="20.5"/><text class="a" y="7.5">→</text></g>
<g id="n15_6" transform="translate(343.5,790)"><ellipse class="w" rx="17" ry="20.5"/><text class="a" y="7.5">→</text></g>
<g id="n15_7" transform="translate(395.5,790)"><ellipse class="w" rx="17" ry="20.5"/><text class="a" y="7.5">→</text></g>
<g id="n15_8" transform="translate(447.5,790)"><ellipse class="y" rx="17" ry="20.5"/><text class="a" y="7.5">→</text></g>
<g id="n15_9" transform="translate(499.5,790)"><ellipse class="w" rx="17" ry="20.5"/><text class="a" y="7.5">→</text></g>
<g id="n15_10" transform="translate(551.5,790)"><ellipse class="w" rx="17" ry="20.5"/><text class="a" y="7.5">→</text></g>
<g id="n15_11" transform="translate(603.5,790)"><ellipse class="y" rx="17" ry="20.5"/><text class="a" y="7.5">→</text></g>
<g id="n15_12" transform="translate(655.5,790)"><ellipse class="w" rx="17" ry="20.5"/><text class="a" y="7.5">→</text></g>
<g id="n15_13" transform="translate(707.5,790)"><ellipse class="w" rx="17" ry="20.5"/><text class="a" y="7.5">→</text></g>
<g id="n15_14" transform="translate(759.5,790)"><ellipse class="w" rx="17" ry="20.5"/><text class="a" y="7.5">→</text></g>
<g id="n15_15" transform="translate(811.5,790)"><ellipse class="w" rx="17" ry="20.5"/><text class="a" y="7.5">→</text></g>
<g id="n15_16" transform="translate(863.5,790)"><ellipse class="w" rx="17" ry="20.5"/><text class="a" y="7.5">→</text></g>
<g id="n15_17" transform="translate(915.5,790)"><ellipse class="w" rx="17" ry="20.5"/><text class="a" y="7.5">→</text></g>
<g id="n15_18" transform="translate(967.5,790)"><ellipse class="w" rx="17" ry="20.5"/><text class="a" y="7.5">→</text></g>
<g id="n16_1" transform="translate(83.5,842)"><ellipse class="w" rx="17" ry="20.5"/><text class="a" y="7.5">←</text></g>
<g id="n16_2" transform="translate(135.5,842)"><ellipse class="w" rx="17" ry="20.5"/><text class="a" y="7.5">←</text></g>
<g id="n16_3" transform="translate(187.5,842)"><ellipse class="w" rx="17" ry="20.5"/><text class="a" y="7.5">←</text></g>
<g id="n16_4" transform="translate(239.5,842)"><ellipse class="w" rx="17" ry="20.5"/><text class="a" y="7.5">←</text></g>
<g id="n16_5" transform="translate(291.5,842)"><ellipse class="w" rx="17" ry="20.5"/><text class="a" y="7.5">←</text></g>
<g id="n16_6" transform="translate(343.5,842)"><ellipse class="w" rx="17" ry="20.5"/><text class="a" y="7.5">←</text></g>
<g id="n16_7" transform="translate(395.5,842)"><ellipse class="w" rx="17" ry="20.5"/><text class="a" y="7.5">←</text></g>
<g id="n16_8" transform="translate(447.5,842)"><ellipse class="y" rx="17" ry="20.5"/><text class="a" y="7.5">←</text></g>
<g id="n16_9" transform="translate(499.5,842)"><ellipse class="w" rx="17" ry="20.5"/><text class="a" y="7.5">←</text></g>
<g id="n16_10" transform="translate(551.5,842)"><ellipse class="w" rx="17" ry="20.5"/><text class="a" y="7.5">←</text></g>
<g id="n16_11" transform="translate(603.5,842)"><ellipse class="y" rx="17" ry="20.5"/><text class="a" y="7.5">←</text></g>
<g id="n16_12" transform="translate(655.5,842)"><ellipse class="w" rx="17" ry="20.5"/><text class="a" y="7.5">←</text></g>
<g id="n16_13" transform="translate(707.5,842)"><ellipse class="w" rx="17" ry="20.5"/><text class="a" y="7.5">←</text></g>
<g id="n16_14" transform="translate(759.5,842)"><ellipse class="w" rx="17" ry="20.5"/><text class="a" y="7.5">←</text></g>
<g id="n16_15" transform="translate(811.5,842)"><ellipse class="w" rx="17" ry="20.5"/><text class="a" y="7.5">←</text></g>
<g id="n16_16" transform="translate(863.5,842)"><ellipse class="w" rx="17" ry="20.5"/><text class="a" y="7.5">←</text></g>
<g id="n16_17" transform="translate(915.5,842)"><ellipse class="w" rx="17" ry="20.5"/><text class="a" y="7.5">←</text></g>
<g id="n16_18" transform="translate(967.5,842)"><ellipse class="w" rx="17" ry="20.5"/><text class="a" y="7.5">←</text></g>
<g id="n17_1" transform="translate(83.5,894)"><ellipse class="w" rx="17" ry="20.5"/><text class="a" y="7.5">→</text></g>
<g id="n17_2" transform="translate(135.5,894)"><ellipse class="w" rx="17" ry="20.5"/><text class="a" y="7.5">→</text></g>
<g id="n17_3" transform="translate(187.5,894)"><ellipse class="w" rx="17" ry="20.5"/><text class="a" y="7.5">→</text></g>
<g id="n17_4" transform="translate(239.5,894)"><ellipse class="w" rx="17" ry="20.5"/><text class="a" y="7.5">→</text></g>
<g id="n17_5" transform="translate(291.5,894)"><ellipse class="w" rx="17" ry="20.5"/><text class="a" y="7.5">→</text></g>
<g id="n17_6" transform="translate(343.5,894)"><ellipse class="w" rx="17" ry="20.5"/><text class="a" y="7.5">→</text></g>
<g id="n17_7" transform="translate(395.5,894)"><ellipse class="w" rx="17" ry="20.5"/><text class="a" y="7.5">→</text></g>
<g id="n17_8" transform="translate(447.5,894)"><ellipse class="y" rx="17" ry="20.5"/><text class="a" y="7.5">→</text></g>
<g id="n17_9" transform="translate(499.5,894)"><ellipse class="w" rx="17" ry="20.5"/><text class="a" y="7.5">→</text></g>
<g id="n17_10" transform="translate(551.5,894)"><ellipse class="w" rx="17" ry="20.5"/><text class="a" y="7.5">→</text></g>
<g id="n17_11" transform="translate(603.5,894)"><ellipse class="y" rx="17" ry="20.5"/><text class="a" y="7.5">→</text></g>
<g id="n17_12" transform="translate(655.5,894)"><ellipse class="w" rx="17" ry="20.5"/><text class="a" y="7.5">→</text></g>
<g id="n17_13" transform="translate(707.5,894)"><ellipse class="w" rx="17" ry="20.5"/><text class="a" y="7.5">→</text></g>
<g id="n17_14" transform="translate(759.5,894)"><ellipse class="w" rx="17" ry="20.5"/><text class="a" y="7.5">→</text></g>
<g id="n17_15" transform="translate(811.5,894)"><ellipse class="w" rx="17" ry="20.5"/><text class="a" y="7.5">→</text></g>
<g id="n17_16" transform="translate(863.5,894)"><ellipse class="w" rx="17" ry="20.5"/><text class="a" y="7.5">→</text></g>
<g id="n17_17" transform="translate(915.5,894)"><ellipse class="w" rx="17" ry="20.5"/><text class="a" y="7.5">→</text></g>
<g id="n17_18" transform="translate(967.5,894)"><ellipse class="w" rx="17" ry="20.5"/><text class="a" y="7.5">→</text></g>
<g id="n18_1" transform="translate(83.5,946)"><ellipse class="w" rx="17" ry="20.5"/><text class="a" y="7.5">←</text></g>
<g id="n18_2" transform="translate(135.5,946)"><ellipse class="w" rx="17" ry="20.5"/><text class="a" y="7.5">←</text></g>
<g id="n18_3" transform="translate(187.5,946)"><ellipse class="w" rx="17" ry="20.5"/><text class="a" y="7.5">←</text></g>
<g id="n18_4" transform="translate(239.5,946)"><ellipse class="w" rx="17" ry="20.5"/><text class="a" y="7.5">←</text></g>
<g id="n18_5" transform="translate(291.5,946)"><ellipse class="w" rx="17" ry="20.5"/><text class="a" y="7.5">←</text></g>
<g id="n18_6" transform="translate(343.5,946)"><ellipse class="w" rx="17" ry="20.5"/><text class="a" y="7.5">←</text></g>
<g id="n18_7" transform="translate(395.5,946)"><ellipse class="w" rx="17" ry="20.5"/><text class="a" y="7.5">←</text></g>
<g id="n18_8" transform="translate(447.5,946)"><ellipse class="y" rx="17" ry="20.5"/><text class="a" y="7.5">←</text></g>
<g id="n18_9" transform="translate(499.5,946)"><ellipse class="w" rx="17" ry="20.5"/><text class="a" y="7.5">←</text></g>
<g id="n18_10" transform="translate(551.5,946)"><ellipse class="w" rx="17" ry="20.5"/><text class="a" y="7.5">←</text></g>
<g id="n18_11" transform="translate(603.5,946)"><ellipse class="y" rx="17" ry="20.5"/><text class="a" y="7.5">←</text></g>
<g id="n18_12" transform="translate(655.5,946)"><ellipse class="w" rx="17" ry="20.5"/><text class="a" y="7.5">←</text></g>
<g id="n18_13" transform="translate(707.5,946)"><ellipse class="w" rx="17" ry="20.5"/><text class="a" y="7.5">←</text></g>
<g id="n18_14" transform="translate(759.5,946)"><ellipse class="w" rx="17" ry="20.5"/><text class="a" y="7.5">←</text></g>
<g id="n18_15" transform="translate(811.5,946)"><ellipse class="w" rx="17" ry="20.5"/><text class="a" y="7.5">←</text></g>
<g id="n18_16" transform="translate(863.5,946)"><ellipse class="w" rx="17" ry="20.5"/><text class="a" y="7.5">←</text></g>
<g id="n18_17" transform="translate(915.5,946)"><ellipse class="w" rx="17" ry="20.5"/><text class="a" y="7.5">←</text></g>
<g id="n18_18" transform="translate(967.5,946)"><ellipse class="w" rx="17" ry="20.5"/><text class="a" y="7.5">←</text></g>
<g id="n19_1" transform="translate(83.5,998)"><ellipse class="w" rx="17" ry="20.5"/><text class="a" y="7.5">→</text></g>
<g id="n19_2" transform="translate(135.5,998)"><ellipse class="w" rx="17" ry="20.5"/><text class="a" y="7.5">→</text></g>
<g id="n19_3" transform="translate(187.5,998)"><ellipse class="w" rx="17" ry="20.5"/><text class="a" y="7.5">→</text></g>
<g id="n19_4" transform="translate(239.5,998)"><ellipse class="w" rx="17" ry="20.5"/><text class="a" y="7.5">→</text></g>
<g id="n19_5" transform="translate(291.5,998)"><ellipse class="w" rx="17" ry="20.5"/><text class="a" y="7.5">→</text></g>
<g id="n19_6" transform="translate(343.5,998)"><ellipse class="w" rx="17" ry="20.5"/><text class="a" y="7.5">→</text></g>
<g id="n19_7" transform="translate(395.5,998)"><ellipse class="w" rx="17" ry="20.5"/><text class="a" y="7.5">→</text></g>
<g id="n19_8" transform="translate(447.5,998)"><ellipse class="y" rx="17" ry="20.5"/><text class="a" y="7.5">→</text></g>
<g id="n19_9" transform="translate(499.5,998)"><ellipse class="w" rx="17" ry="20.5"/><text class="a" y="7.5">→</text></g>
<g id="n19_10" transform="translate(551.5,998)"><ellipse class="w" rx="17" ry="20.5"/><text class="a" y="7.5">→</text></g>
<g id="n19_11" transform="translate(603.5,998)"><ellipse class="y" rx="17" ry="20.5"/><text class="a" y="7.5">→</text></g>
<g id="n19_12" transform="translate(655.5,998)"><ellipse class="w" rx="17" ry="20.5"/><text class="a" y="7.5">→</text></g>
<g id="n19_13" transform="translate(707.5,998)"><ellipse class="w" rx="17" ry="20.5"/><text class="a" y="7.5">→</text></g>
<g id="n19_14" transform="translate(759.5,998)"><ellipse class="w" rx="17" ry="20.5"/><text class="a" y="7.5">→</text></g>
<g id="n19_15" transform="translate(811.5,998)"><ellipse class="w" rx="17" ry="20.5"/><text class="a" y="7.5">→</text></g>
<g id="n19_16" transform="translate(863.5,998)"><ellipse class="w" rx="17" ry="20.5"/><text class="a" y="7.5">→</text></g>
<g id="n19_17" transform="translate(915.5,998)"><ellipse class="w" rx="17" ry="20.5"/><text class="a" y="7.5">→</text></g>
<g id="n19_18" transform="translate(967.5,998)"><ellipse class="w" rx="17" ry="20.5"/><text class="a" y="7.5">→</text></g>
<g id="n20_1" transform="translate(83.5,1050)"><ellipse class="w" rx="17" ry="20.5"/><text class="a" y="7.5">←</text></g>
<g id="n20_2" transform="translate(135.5,1050)"><ellipse class="w" rx="17" ry="20.5"/><text class="a" y="7.5">←</text></g>
<g id="n20_3" transform="translate(187.5,1050)"><ellipse class="w" rx="17" ry="20.5"/><text class="a" y="7.5">←</text></g>
<g id="n20_4" transform="translate(239.5,1050)"><ellipse class="w" rx="17" ry="20.5"/><text class="a" y="7.5">←</text></g>
<g id="n20_5" transform="translate(291.5,1050)"><ellipse class="w" rx="17" ry="20.5"/><text class="a" y="7.5">←</text></g>
<g id="n20_6" transform="translate(343.5,1050)"><ellipse class="w" rx="17" ry="20.5"/><text class="a" y="7.5">←</text></g>
<g id="n20_7" transform="translate(395.5,1050)"><ellipse class="w" rx="17" ry="20.5"/><text class="a" y="7.5">←</text></g>
<g id="n20_8" transform="translate(447.5,1050)"><ellipse class="y" rx="17" ry="20.5"/><text class="a" y="7.5">←</text></g>
<g id="n20_9" transform="translate(499.5,1050)"><ellipse class="w" rx="17" ry="20.5"/><text class="a" y="7.5">←</text></g>
<g id="n20_10" transform="translate(551.5,1050)"><ellipse class="w" rx="17" ry="20.5"/><text class="a" y="7.5">←</text></g>
<g id="n20_11" transform="translate(603.5,1050)"><ellipse class="y" rx="17" ry="20.5"/><text class="a" y="7.5">←</text></g>
<g id="n20_12" transform="translate(655.5,1050)"><ellipse class="w" rx="17" ry="20.5"/><text class="a" y="7.5">←</text></g>
<g id="n20_13" transform="translate(707.5,1050)"><ellipse class="w" rx="17" ry="20.5"/><text class="a" y="7.5">←</text></g>
<g id="n20_14" transform="translate(759.5,1050)"><ellipse class="w" rx="17" ry="20.5"/><text class="a" y="7.5">←</text></g>
<g id="n20_15" transform="translate(811.5,1050)"><ellipse class="w" rx="17" ry="20.5"/><text class="a" y="7.5">←</text></g>
<g id="n20_16" transform="translate(863.5,1050)"><ellipse class="w" rx="17" ry="20.5"/><text class="a" y="7.5">←</text></g>
<g id="n20_17" transform="translate(915.5,1050)"><ellipse class="w" rx="17" ry="20.5"/><text class="a" y="7.5">←</text></g>
<g id="n20_18" transform="translate(967.5,1050)"><ellipse class="w" rx="17" ry="20.5"/><text class="a" y="7.5">←</text></g>
<g id="n21_1" transform="translate(83.5,1102)"><ellipse class="w" rx="17" ry="20.5"/><text class="a" y="7.5">→</text></g>
<g id="n21_2" transform="translate(135.5,1102)"><ellipse class="w" rx="17" ry="20.5"/><text class="a" y="7.5">→</text></g>
<g id="n21_3" transform="translate(187.5,1102)"><ellipse class="w" rx="17" ry="20.5"/><text class="a" y="7.5">→</text></g>
<g id="n21_4" transform="translate(239.5,1102)"><ellipse class="w" rx="17" ry="20.5"/><text class="a" y="7.5">→</text></g>
<g id="n21_5" transform="translate(291.5,1102)"><ellipse class="w" rx="17" ry="20.5"/><text class="a" y="7.5">→</text></g>
<g id="n21_6" transform="translate(343.5,1102)"><ellipse class="w" rx="17" ry="20.5"/><text class="a" y="7.5">→</text></g>
<g id="n21_7" transform="translate(395.5,1102)"><ellipse class="w" rx="17" ry="20.5"/><text class="a" y="7.5">→</text></g>
<g id="n21_8" transform="translate(447.5,1102)"><ellipse class="y" rx="17" ry="20.5"/><text class="a" y="7.5">→</text></g>
<g id="n21_9" transform="translate(499.5,1102)"><ellipse class="w" rx="17" ry="20.5"/><text class="a" y="7.5">→</text></g>
<g id="n21_10" transform="translate(551.5,1102)"><ellipse class="w" rx="17" ry="20.5"/><text class="a" y="7.5">→</text></g>
<g id="n21_11" transform="translate(603.5,1102)"><ellipse class="y" rx="17" ry="20.5"/><text class="a" y="7.5">→</text></g>
<g id="n21_12" transform="translate(655.5,1102)"><ellipse class="w" rx="17" ry="20.5"/><text class="a" y="7.5">→</text></g>
<g id="n21_13" transform="translate(707.5,1102)"><ellipse class="w" rx="17" ry="20.5"/><text class="a" y="7.5">→</text></g>
<g id="n21_14" transform="translate(759.5,1102)"><ellipse class="w" rx="17" ry="20.5"/><text class="a" y="7.5">→</text></g>
<g id="n21_15" transform="translate(811.5,1102)"><ellipse class="w" rx="17" ry="20.5"/><text class="a" y="7.5">→</text></g>
<g id="n21_16" transform="translate(863.5,1102)"><ellipse class="w" rx="17" ry="20.5"/><text class="a" y="7.5">→</text></g>
<g id="n21_17" transform="translate(915.5,1102)"><ellipse class="w" rx="17" ry="20.5"/><text class="a" y="7.5">→</text></g>
<g id="n21_18" transform="translate(967.5,1102)"><ellipse class="w" rx="17" ry="20.5"/><text class="a" y="7.5">→</text></g>
<g id="n22_1" transform="translate(83.5,1154)"><ellipse class="w" rx="17" ry="20.5"/><text class="a" y="7.5">←</text></g>
<g id="n22_2" transform="translate(135.5,1154)"><ellipse class="w" rx="17" ry="20.5"/><text class="a" y="7.5">←</text></g>
<g id="n22_3" transform="translate(187.5,1154)"><ellipse class="w" rx="17" ry="20.5"/><text class="a" y="7.5">←</text></g>
<g id="n22_4" transform="translate(239.5,1154)"><ellipse class="w" rx="17" ry="20.5"/><text class="a" y="7.5">←</text></g>
<g id="n22_5" transform="translate(291.5,1154)"><ellipse class="w" rx="17" ry="20.5"/><text class="a" y="7.5">←</text></g>
<g id="n22_6" transform="translate(343.5,1154)"><ellipse class="w" rx="17" ry="20.5"/><text class="a" y="7.5">←</text></g>
<g id="n22_7" transform="translate(395.5,1154)"><ellipse class="w" rx="17" ry="20.5"/><text class="a" y="7.5">←</text></g>
<g id="n22_8" transform="translate(447.5,1154)"><ellipse class="y" rx="17" ry="20.5"/><text class="a" y="7.5">←</text></g>
<g id="n22_9" transform="translate(499.5,1154)"><ellipse class="w" rx="17" ry="20.5"/><text class="a" y="7.5">←</text></g>
<g id="n22_10" transform="translate(551.5,1154)"><ellipse class="w" rx="17" ry="20.5"/><text class="a" y="7.5">←</text></g>
<g id="n22_11" transform="translate(603.5,1154)"><ellipse class="y" rx="17" ry="20.5"/><text class="a" y="7.5">←</text></g>
<g id="n22_12" transform="translate(655.5,1154)"><ellipse class="w" rx="17" ry="20.5"/><text class="a" y="7.5">←</text></g>
<g id="n22_13" transform="translate(707.5,1154)"><ellipse class="w" rx="17" ry="20.5"/><text class="a" y="7.5">←</text></g>
<g id="n22_14" transform="translate(759.5,1154)"><ellipse class="w" rx="17" ry="20.5"/><text class="a" y="7.5">←</text></g>
<g id="n22_15" transform="translate(811.5,1154)"><ellipse class="w" rx="17" ry="20.5"/><text class="a" y="7.5">←</text></g>
<g id="n22_16" transform="translate(863.5,1154)"><ellipse class="w" rx="17" ry="20.5"/><text class="a" y="7.5">←</text></g>
<g id="n22_17" transform="translate(915.5,1154)"><ellipse class="w" rx="17" ry="20.5"/><text class="a" y="7.5">←</text></g>
<g id="n22_18" transform="translate(967.5,1154)"><ellipse class="w" rx="17" ry="20.5"/><text class="a" y="7.5">←</text></g>
<g id="n23_1" transform="translate(83.5,1206)"><ellipse class="w" rx="17" ry="20.5"/><text class="a" y="7.5">→</text></g>
<g id="n23_2" transform="translate(135.5,1206)"><ellipse class="w" rx="17" ry="20.5"/><text class="a" y="7.5">→</text></g>
<g id="n23_3" transform="translate(187.5,1206)"><ellipse class="w" rx="17" ry="20.5"/><text class="a" y="7.5">→</text></g>
<g id="n23_4" transform="translate(239.5,1206)"><ellipse class="w" rx="17" ry="20.5"/><text class="a" y="7.5">→</text></g>
<g id="n23_5" transform="translate(291.5,1206)"><ellipse class="w" rx="17" ry="20.5"/><text class="a" y="7.5">→</text></g>
<g id="n23_6" transform="translate(343.5,1206)"><ellipse class="w" rx="17" ry="20.5"/><text class="a" y="7.5">→</text></g>
<g id="n23_7" transform="translate(395.5,1206)"><ellipse class="w" rx="17" ry="20.5"/><text class="a" y="7.5">→</text></g>
<g id="n23_8" transform="translate(447.5,1206)"><ellipse class="y" rx="17" ry="20.5"/><text class="a" y="7.5">→</text></g>
<g id="n23_9" transform="translate(499.5,1206)"><ellipse class="w" rx="17" ry="20.5"/><text class="a" y="7.5">→</text></g>
<g id="n23_10" transform="translate(551.5,1206)"><ellipse class="w" rx="17" ry="20.5"/><text class="a" y="7.5">→</text></g>
<g id="n23_11" transform="translate(603.5,1206)"><ellipse class="y" rx="17" ry="20.5"/><text class="a" y="7.5">→</text></g>
<g id="n23_12" transform="translate(655.5,1206)"><ellipse class="w" rx="17" ry="20.5"/><text class="a" y="7.5">→</text></g>
<g id="n23_13" transform="translate(707.5,1206)"><ellipse class="w" rx="17" ry="20.5"/><text class="a" y="7.5">→</text></g>
<g id="n23_14" transform="translate(759.5,1206)"><ellipse class="w" rx="17" ry="20.5"/><text class="a" y="7.5">→</text></g>
<g id="n23_15" transform="translate(811.5,1206)"><ellipse class="w" rx="17" ry="20.5"/><text class="a" y="7.5">→</text></g>
<g id="n23_16" transform="translate(863.5,1206)"><ellipse class="w" rx="17" ry="20.5"/><text class="a" y="7.5">→</text></g>
<g id="n23_17" transform="translate(915.5,1206)"><ellipse class="w" rx="17" ry="20.5"/><text class="a" y="7.5">→</text></g>
<g id="n23_18" transform="translate(967.5,1206)"><ellipse class="w" rx="17" ry="20.5"/><text class="a" y="7.5">→</text></g>
<g id="n24_1" transform="translate(83.5,1258)"><ellipse class="w" rx="17" ry="20.5"/><text class="a" y="7.5">←</text></g>
<g id="n24_2" transform="translate(135.5,1258)"><ellipse class="w" rx="17" ry="20.5"/><text class="a" y="7.5">←</text></g>
<g id="n24_3" transform="translate(187.5,1258)"><ellipse class="w" rx="17" ry="20.5"/><text class="a" y="7.5">←</text></g>
<g id="n24_4" transform="translate(239.5,1258)"><ellipse class="w" rx="17" ry="20.5"/><text class="a" y="7.5">←</text></g>
<g id="n24_5" transform="translate(291.5,1258)"><ellipse class="w" rx="17" ry="20.5"/><text class="a" y="7.5">←</text></g>
<g id="n24_6" transform="translate(343.5,1258)"><ellipse class="w" rx="17" ry="20.5"/><text class="a" y="7.5">←</text></g>
<g id="n24_7" transform="translate(395.5,1258)"><ellipse class="w" rx="17" ry="20.5"/><text class="a" y="7.5">←</text></g>
<g id="n24_8" transform="translate(447.5,1258)"><ellipse class="y" rx="17" ry="20.5"/><text class="a" y="7.5">←</text></g>
<g id="n24_9" transform="translate(499.5,1258)"><ellipse class="w" rx="17" ry="20.5"/><text class="a" y="7.5">←</text></g>
<g id="n24_10" transform="translate(551.5,1258)"><ellipse class="w" rx="17" ry="20.5"/><text class="a" y="7.5">←</text></g>
<g id="n24_11" transform="translate(603.5,1258)"><ellipse class="y" rx="17" ry="20.5"/><text class="a" y="7.5">←</text></g>
<g id="n24_12" transform="translate(655.5,1258)"><ellipse class="w" rx="17" ry="20.5"/><text class="a" y="7.5">←</text></g>
<g id="n24_13" transform="translate(707.5,1258)"><ellipse class="w" rx="17" ry="20.5"/><text class="a" y="7.5">←</text></g>
<g id="n24_14" transform="translate(759.5,1258)"><ellipse class="w" rx="17" ry="20.5"/><text class="a" y="7.5">←</text></g>
<g id="n24_15" transform="translate(811.5,1258)"><ellipse class="w" rx="17" ry="20.5"/><text class="a" y="7.5">←</text></g>
<g id="n24_16" transform="translate(863.5,1258)"><ellipse class="w" rx="17" ry="20.5"/><text class="a" y="7.5">←</text></g>
<g id="n24_17" transform="translate(915.5,1258)"><ellipse class="w" rx="17" ry="20.5"/><text class="a" y="7.5">←</text></g>
<g id="n24_18" transform="translate(967.5,1258)"><ellipse class="w" rx="17" ry="20.5"/><text class="a" y="7.5">←</text></g>
<g id="n25_1" transform="translate(83.5,1310)"><ellipse class="w" rx="17" ry="20.5"/><text class="a" y="7.5">→</text></g>
<g id="n25_2" transform="translate(135.5,1310)"><ellipse class="w" rx="17" ry="20.5"/><text class="a" y="7.5">→</text></g>
<g id="n25_3" transform="translate(187.5,1310)"><ellipse class="w" rx="17" ry="20.5"/><text class="a" y="7.5">→</text></g>
<g id="n25_4" transform="translate(239.5,1310)"><ellipse class="w" rx="17" ry="20.5"/><text class="a" y="7.5">→</text></g>
<g id="n25_5" transform="translate(291.5,1310)"><ellipse class="w" rx="17" ry="20.5"/><text class="a" y="7.5">→</text></g>
<g id="n25_6" transform="translate(343.5,1310)"><ellipse class="w" rx="17" ry="20.5"/><text class="a" y="7.5">→</text></g>
<g id="n25_7" transform="translate(395.5,1310)"><ellipse class="w" rx="17" ry="20.5"/><text class="a" y="7.5">→</text></g>
<g id="n25_8" transform="translate(447.5,1310)"><ellipse class="y" rx="17" ry="20.5"/><text class="a" y="7.5">→</text></g>
<g id="n25_9" transform="translate(499.5,1310)"><ellipse class="y" rx="17" ry="20.5"/><text class="a" y="7.5">→</text></g>
<g id="n25_10" transform="translate(551.5,1310)"><ellipse class="y" rx="17" ry="20.5"/><text class="a" y="7.5">→</text></g>
<g id="n25_11" transform="translate(603.5,1310)"><ellipse class="y" rx="17" ry="20.5"/><text class="a" y="7.5">→</text></g>
<g id="n25_12" transform="translate(655.5,1310)"><ellipse class="w" rx="17" ry="20.5"/><text class="a" y="7.5">→</text></g>
<g id="n25_13" transform="translate(707.5,1310)"><ellipse class="w" rx="17" ry="20.5"/><text class="a" y="7.5">→</text></g>
<g id="n25_14" transform="translate(759.5,1310)"><ellipse class="w" rx="17" ry="20.5"/><text class="a" y="7.5">→</text></g>
<g id="n25_15" transform="translate(811.5,1310)"><ellipse class="w" rx="17" ry="20.5"/><text class="a" y="7.5">→</text></g>
<g id="n25_16" transform="translate(863.5,1310)"><ellipse class="w" rx="17" ry="20.5"/><text class="a" y="7.5">→</text></g>
<g id="n25_17" transform="translate(915.5,1310)"><ellipse class="w" rx="17" ry="20.5"/><text class="a" y="7.5">→</text></g>
<g id="n25_18" transform="translate(967.5,1310)"><ellipse class="w" rx="17" ry="20.5"/><text class="a" y="7.5">→</text></g>
</g>
<text id="watermark" class="wm" x="526" y="717">BRACELETBOOK.COM</text>
</svg>
